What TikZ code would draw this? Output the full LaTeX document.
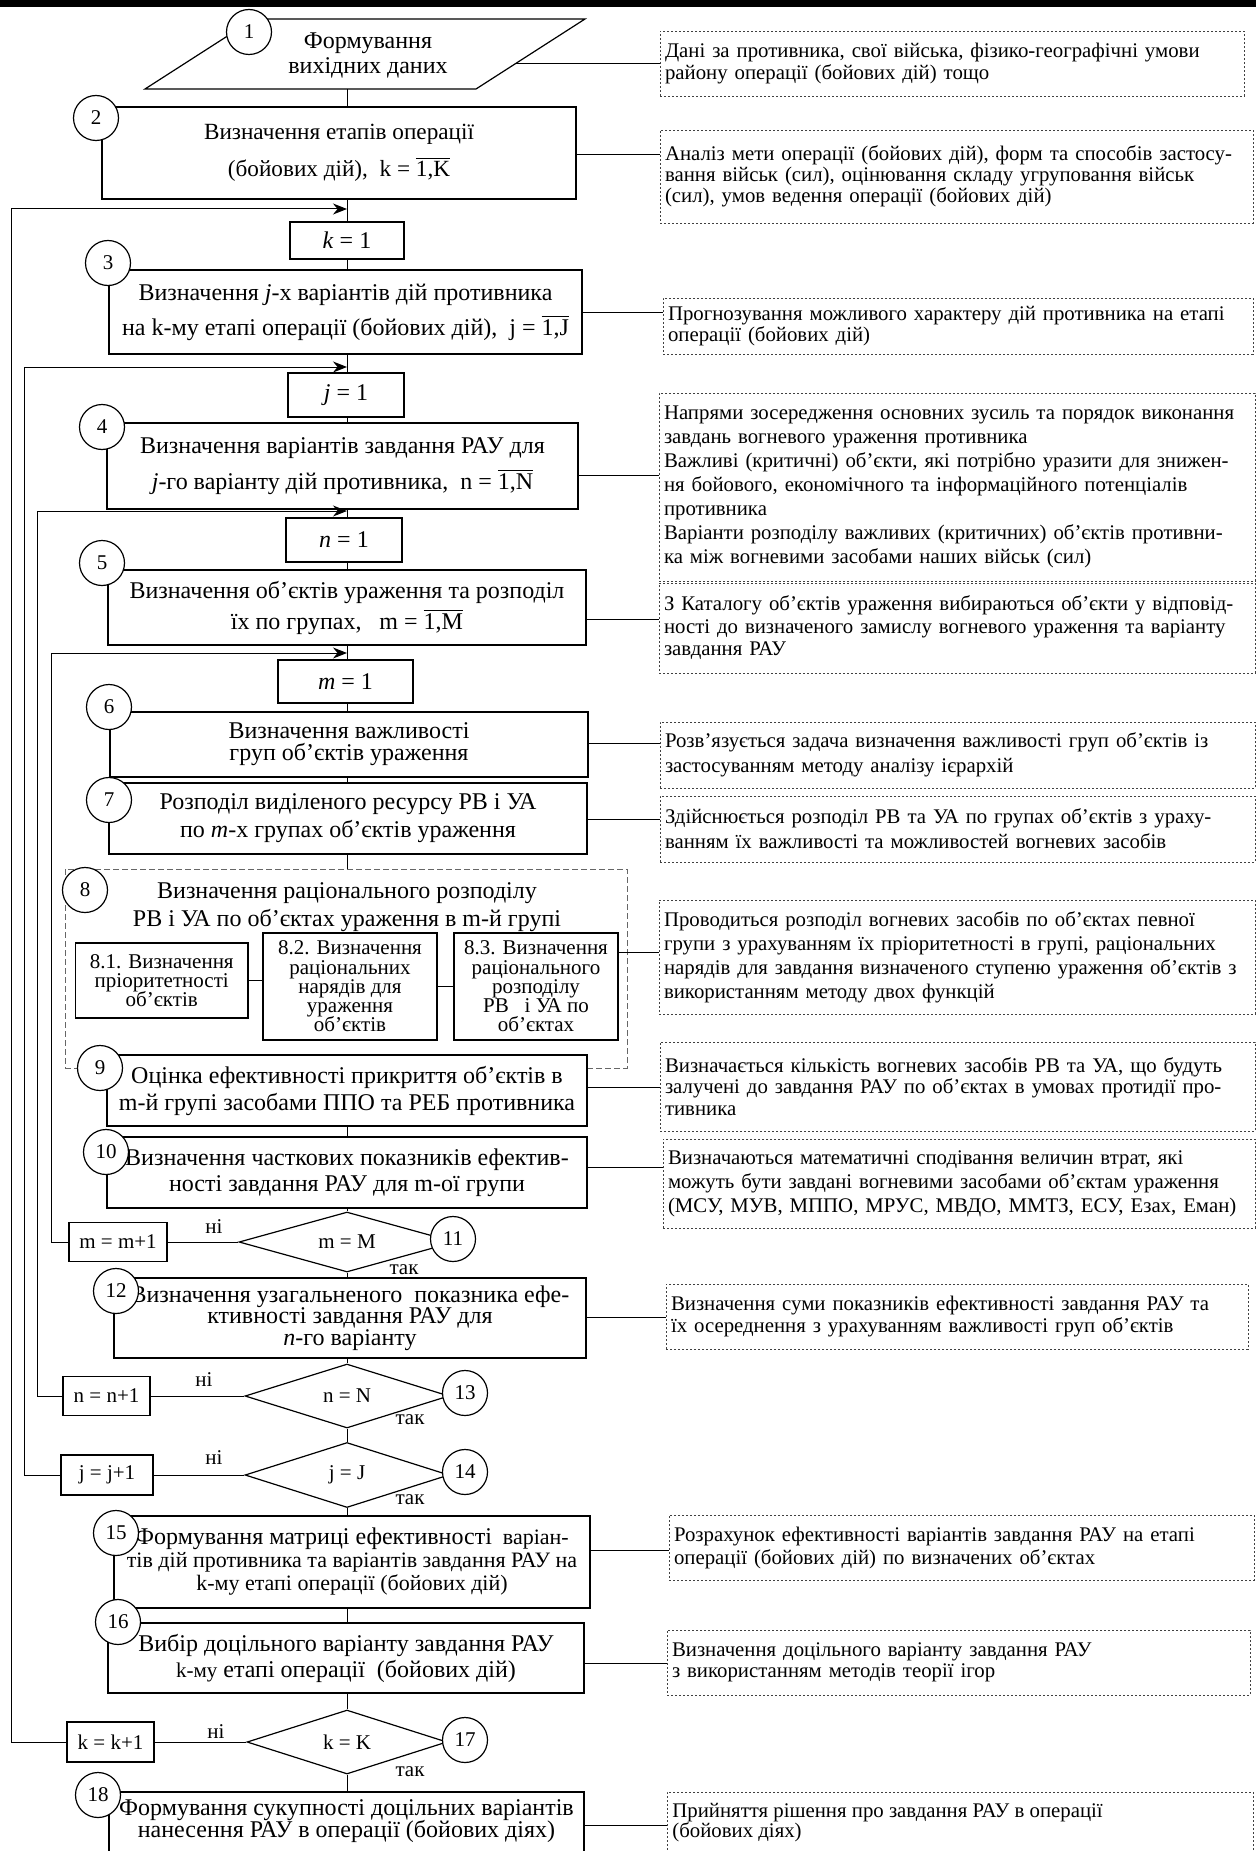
\documentclass[tikz,border=0pt]{standalone}
\usepackage{fontspec}
\setmainfont{Liberation Serif}
\usetikzlibrary{shapes.geometric,arrows.meta}
\newcommand\fz[2]{\fontsize{#1}{#2}\selectfont\lineskiplimit=-20pt\relax}
\newcommand\ovl[1]{\(\overline{\mbox{#1}}\)}
\newcommand\rl[1]{\mbox{#1}}
\tikzset{
 box/.style={draw, line width=0.6pt, fill=white, inner sep=0pt, align=center},
 cnt/.style={draw, line width=0.6pt, fill=white, inner sep=0pt, align=center, font=\fz{10.5}{12}},
 rbox/.style={draw=black!75, line width=0.4pt, dash pattern=on 1.2pt off 0.8pt, inner xsep=2.5pt, inner ysep=0pt, align=left},
 circ/.style={draw, circle, fill=white, line width=0.6pt, minimum size=22.5pt, inner sep=0pt, font=\fz{10.5}{12}},
 dia/.style={draw, diamond, aspect=3.5, line width=0.6pt, fill=white, inner sep=0pt, font=\fz{10.5}{12}},
 conn/.style={line width=0.5pt},
 arr/.style={line width=0.5pt, -{Stealth[length=7pt,width=5.5pt]}},
 lbl/.style={font=\fz{10.5}{12}, inner sep=0pt},
}
\begin{document}
\begin{tikzpicture}[x=0.5pt,y=-0.5pt]
\useasboundingbox (0,0) rectangle (1256,1851);
\clip (0,0) rectangle (1256,1851);
\fill (0,0) rectangle (1256,7);

% ---------- node 1 (parallelogram) ----------
\draw[line width=0.6pt] (254,19) -- (585,19) -- (476,89) -- (145,89) -- cycle;
\node[font=\fz{12}{12.5}, align=center, inner sep=0pt] (p1) at (368,55) {Формування\\вихідних даних};
\coordinate (p1s) at (347,89);
\coordinate (p1e) at (516,64);
\coordinate (ax) at (347,0);

% ---------- main boxes ----------
\node[box, minimum width=237pt, minimum height=46pt, font=\fz{11.6}{18.5}] (b2) at (339,153)
 {Визначення етапів операції\\(бойових дій),~~k = \ovl{1,K}};
\node[box, minimum width=57pt, minimum height=18.5pt, font=\fz{12}{14}] (k1) at (347,240.5) {\textit{k} = 1};
\node[box, minimum width=236.5pt, minimum height=42pt, font=\fz{12}{17.5}] (b3) at (345.5,312)
 {Визначення \textit{j}-х варіантів дій противника\\на k-му етапі операції (бойових дій),~~j = \ovl{1,J}};
\node[box, minimum width=58pt, minimum height=22pt, font=\fz{12}{14}] (j1) at (346,395) {\textit{j} = 1};
\node[box, minimum width=235.5pt, minimum height=43pt, font=\fz{12}{18}] (b4) at (342.5,466)
 {Визначення варіантів завдання РАУ для\\\textit{j}-го варіанту дій противника,~~n = \ovl{1,N}};
\node[box, minimum width=58pt, minimum height=22pt, font=\fz{12}{14}] (n1) at (344,540) {\textit{n} = 1};
\node[box, minimum width=239pt, minimum height=37.5pt, font=\fz{12}{15.5}] (b5) at (347,607.5)
 {Визначення об’єктів ураження та розподіл\\їх по групах,~~~m = \ovl{1,M}};
\node[box, minimum width=67.5pt, minimum height=21.5pt, font=\fz{12}{14}] (m1) at (345.5,681.5) {\textit{m} = 1};
\node[box, minimum width=239pt, minimum height=32.5pt, font=\fz{12}{11}] (b6) at (349,744.5)
 {Визначення важливості\\груп об’єктів ураження};
\node[box, minimum width=239pt, minimum height=35.5pt, font=\fz{12}{14}] (b7) at (348,818.5)
 {Розподіл виділеного ресурсу РВ і УА\\по \textit{m}-х групах об’єктів ураження};

% ---------- block 8 ----------
\node[draw=black!60, line width=0.5pt, dash pattern=on 3pt off 1.5pt, minimum width=281pt, minimum height=99.5pt, inner sep=0pt] (b8) at (346,968.5) {};
\node[font=\fz{12}{14}, align=center, inner sep=0pt] (b8t) at (347,907)
 {Визначення раціонального розподілу\\РВ і УА по об’єктах ураження в m-й групі};
\node[box, minimum width=86.25pt, minimum height=37.5pt, font=\fz{10.5}{9.6}] (s1) at (161.75,980.5)
 {8.1. Визначення\\пріоритетності\\об’єктів};
\node[box, minimum width=87pt, minimum height=53.5pt, font=\fz{10.5}{9.6}] (s2) at (350,986.5)
 {8.2. Визначення\\раціональних\\нарядів для\\ураження\\об’єктів};
\node[box, minimum width=82pt, minimum height=53.5pt, font=\fz{10.5}{9.6}] (s3) at (536,986.5)
 {8.3. Визначення\\раціонального\\розподілу\\РВ~~~і УА по\\об’єктах};

\node[box, minimum width=240pt, minimum height=35.5pt, font=\fz{12}{13.5}] (b9) at (347,1090.5)
 {Оцінка ефективності прикриття об’єктів в\\m-й групі засобами ППО та РЕБ противника};
\node[box, minimum width=240pt, minimum height=35.5pt, font=\fz{12}{13}] (b10) at (347,1172.5)
 {Визначення часткових показників ефектив-\\ності завдання РАУ для m-ої групи};

\node[dia, minimum width=108pt, minimum height=30pt] (dm) at (347,1242) {m = M};
\node[cnt, minimum width=49pt, minimum height=19.5pt] (mm1) at (118,1242) {m = m+1};

\node[box, minimum width=236pt, minimum height=40pt, font=\fz{12}{10.75}] (b12) at (350,1318)
 {Визначення узагальненого~ показника ефе-\\ктивності завдання РАУ для\\\textit{n}-го варіанту};

\node[dia, minimum width=102pt, minimum height=32pt] (dn) at (347,1396) {n = N};
\node[cnt, minimum width=43.5pt, minimum height=19.5pt] (nn1) at (106.5,1396) {n = n+1};

\node[dia, minimum width=102pt, minimum height=32.5pt] (dj) at (347,1475) {j = J};
\node[cnt, minimum width=46pt, minimum height=20pt] (jj1) at (107,1475) {j = j+1};

\node[box, minimum width=238pt, minimum height=46pt, font=\fz{11}{11.5}] (b15) at (352,1562)
 {{\fontsize{12}{11.5}\selectfont Формування матриці ефективності}~ варіан-\\тів дій противника та варіантів завдання РАУ на\\k-му етапі операції (бойових дій)};
\node[box, minimum width=238pt, minimum height=35pt, font=\fz{12}{13}] (b16) at (346,1658)
 {Вибір доцільного варіанту завдання РАУ\\{\fontsize{10.5}{13}\selectfont k-му} етапі операції~ (бойових дій)};

\node[dia, minimum width=100pt, minimum height=32pt] (dk) at (347,1742) {k = K};
\node[cnt, minimum width=43.5pt, minimum height=20pt] (kk1) at (110.5,1742) {k = k+1};

\node[box, minimum width=237.5pt, minimum height=50pt] (b18) at (346.5,1842) {};
\node[font=\fz{12}{11}, align=center, inner sep=0pt] (b18t) at (346.5,1821)
 {Формування сукупності доцільних варіантів\\нанесення РАУ в операції (бойових діях)};

% ---------- right notes ----------
\node[rbox, text width=287pt, minimum height=32.5pt, font=\fz{10.4}{11}] (r1) at (952,63.5)
 {\rl{Дані за противника, свої війська, фізико-географічні умови}\\\rl{району операції (бойових дій) тощо}};
\node[rbox, text width=291.5pt, minimum height=46.5pt, font=\fz{10.4}{10.5}] (r2) at (956.5,176.5)
 {\rl{Аналіз мети операції (бойових дій), форм та способів застосу-}\\\rl{вання військ (сил), оцінювання складу угруповання військ}\\\rl{(сил), умов ведення операції (бойових дій)}};
\node[rbox, text width=290pt, minimum height=28pt, font=\fz{10.4}{10.5}] (r3) at (958,326)
 {\rl{Прогнозування можливого характеру дій противника на етапі}\\\rl{операції (бойових дій)}};
\node[rbox, text width=293pt, minimum height=94pt, font=\fz{10.4}{12}] (r4) at (957,487)
 {\rl{Напрями зосередження основних зусиль та порядок виконання}\\\rl{завдань вогневого ураження противника}\\\rl{Важливі (критичні) об’єкти, які потрібно уразити для знижен-}\\\rl{ня бойового, економічного та інформаційного потенціалів}\\\rl{противника}\\\rl{Варіанти розподілу важливих (критичних) об’єктів противни-}\\\rl{ка між вогневими засобами наших військ (сил)}};
\node[rbox, text width=293pt, minimum height=45pt, font=\fz{10.4}{11.25}] (r5) at (957,628)
 {\rl{З Каталогу об’єктів ураження вибираються об’єкти у відповід-}\\\rl{ності до визначеного замислу вогневого ураження та варіанту}\\\rl{завдання РАУ}};
\node[rbox, text width=292.5pt, minimum height=33pt, font=\fz{10.4}{12.5}] (r6) at (957.5,755)
 {\rl{Розв’язується задача визначення важливості груп об’єктів із}\\\rl{застосуванням методу аналізу ієрархій}};
\node[rbox, text width=292.5pt, minimum height=33pt, font=\fz{10.4}{12.5}] (r7) at (957.5,829)
 {\rl{Здійснюється розподіл РВ та УА по групах об’єктів з ураху-}\\\rl{ванням їх важливості та можливостей вогневих засобів}};
\node[rbox, text width=293pt, minimum height=57pt, font=\fz{10.4}{12}] (r8) at (957,957)
 {\rl{Проводиться розподіл вогневих засобів по об’єктах певної}\\\rl{групи з урахуванням їх пріоритетності в групі, раціональних}\\\rl{нарядів для завдання визначеного ступеню ураження об’єктів з}\\\rl{використанням методу двох функцій}};
\node[rbox, text width=292.5pt, minimum height=44.5pt, font=\fz{10.4}{10.75}] (r9) at (957.5,1086.5)
 {\rl{Визначається кількість вогневих засобів РВ та УА, що будуть}\\\rl{залучені до завдання РАУ по об’єктах в умовах протидії про-}\\\rl{тивника}};
\node[rbox, text width=291pt, minimum height=44.5pt, font=\fz{10.4}{12}] (r10) at (959,1183.5)
 {\rl{Визначаються математичні сподівання величин втрат, які}\\\rl{можуть бути завдані вогневими засобами об’єктам ураження}\\\rl{(МСУ, МУВ, МППО, МРУС, МВДО, ММТЗ, ЕСУ, Езах, Еман)}};
\node[rbox, text width=286pt, minimum height=32.5pt, font=\fz{10.4}{11}] (r11) at (957,1316.5)
 {\rl{Визначення суми показників ефективності завдання РАУ та}\\\rl{їх осереднення з урахуванням важливості груп об’єктів}};
\node[rbox, text width=287.5pt, minimum height=32.5pt, font=\fz{10.4}{11.5}] (r12) at (961.5,1547.5)
 {\rl{Розрахунок ефективності варіантів завдання РАУ на етапі}\\\rl{операції (бойових дій) по визначених об’єктах}};
\node[rbox, text width=286.5pt, minimum height=32.5pt, font=\fz{10.4}{10.5}] (r13) at (958.5,1662.5)
 {\rl{Визначення доцільного варіанту завдання РАУ}\\\rl{з використанням методів теорії ігор}};
\node[rbox, text width=288pt, minimum height=50pt] (r14) at (960,1842) {};
\node[font=\fz{10.4}{10}, align=left, inner sep=0pt, anchor=west] (r14t) at (672,1823)
 {Прийняття рішення про завдання РАУ в операції\\(бойових діях)};

% ---------- main vertical connectors ----------
\draw[conn] (p1s) -- (b2.north -| p1s);
\draw[conn] (b2.south -| ax) -- (k1.north -| ax);
\draw[conn] (k1.south -| ax) -- (b3.north -| ax);
\draw[conn] (b3.south -| ax) -- (j1.north -| ax);
\draw[conn] (j1.south -| ax) -- (b4.north -| ax);
\draw[conn] (b4.south -| ax) -- (n1.north -| ax);
\draw[conn] (n1.south -| ax) -- (b5.north -| ax);
\draw[conn] (b5.south -| ax) -- (m1.north -| ax);
\draw[conn] (m1.south -| ax) -- (b6.north -| ax);
\draw[conn] (b6.south -| ax) -- (b7.north -| ax);
\draw[conn] (b7.south -| ax) -- (b8.north -| ax);
\draw[conn] (b9.south -| ax) -- (b10.north -| ax);
\draw[conn] (b10.south -| ax) -- (dm.north);
\draw[conn] (dm.south) -- (b12.north -| ax);
\draw[conn] (b12.south -| ax) -- (dn.north);
\draw[conn] (dn.south) -- (dj.north);
\draw[conn] (dj.south) -- (b15.north -| ax);
\draw[conn] (b15.south -| ax) -- (b16.north -| ax);
\draw[conn] (b16.south -| ax) -- (dk.north);
\draw[conn] (dk.south) -- (b18.north -| ax);

% block 8 internals
\draw[conn] (s1.east) -- (s1.east -| s2.west);
\draw[conn] (s2.east) -- (s3.west);

% ---------- "no" branches and loops ----------
\draw[conn] (dm.west) -- (mm1.east);
\draw[conn] (dn.west) -- (nn1.east);
\draw[conn] (dj.west) -- (jj1.east);
\draw[conn] (dk.west) -- (kk1.east);

\coordinate (kx) at (11.5,209);  \coordinate (ka) at (347,209);
\coordinate (jx) at (24,367);    \coordinate (ja) at (347,367);
\coordinate (nx) at (37.5,511);  \coordinate (na) at (347,511);
\coordinate (mx) at (51,653);    \coordinate (ma) at (347,653);
\draw[arr] (kk1.west) -| (kx) -- (ka);
\draw[arr] (jj1.west) -| (jx) -- (ja);
\draw[arr] (nn1.west) -| (nx) -- (na);
\draw[arr] (mm1.west) -| (mx) -- (ma);

\node[lbl] (lm1) at (214,1227) {ні};
\node[lbl] (ln1) at (204,1380) {ні};
\node[lbl] (lj1) at (214,1458) {ні};
\node[lbl] (lk1) at (216,1732) {ні};
\node[lbl] (lm2) at (404,1270) {так};
\node[lbl] (ln2) at (410,1420) {так};
\node[lbl] (lj2) at (410,1500) {так};
\node[lbl] (lk2) at (410,1772) {так};

% ---------- connectors to notes ----------
\coordinate (y2) at (0,155);   \coordinate (y3) at (0,312);
\coordinate (y4) at (0,475);   \coordinate (y5) at (0,619);
\coordinate (y6) at (0,743);   \coordinate (y7) at (0,819);
\coordinate (y8) at (0,952);   \coordinate (y9) at (0,1087);
\coordinate (y10) at (0,1167); \coordinate (y12) at (0,1317);
\coordinate (y15) at (0,1550); \coordinate (y16) at (0,1663);
\coordinate (y18) at (0,1825);
\draw[conn] (p1e) -- (p1e -| r1.west);
\draw[conn] (b2.east |- y2) -- (r2.west |- y2);
\draw[conn] (b3.east |- y3) -- (r3.west |- y3);
\draw[conn] (b4.east |- y4) -- (r4.west |- y4);
\draw[conn] (b5.east |- y5) -- (r5.west |- y5);
\draw[conn] (b6.east |- y6) -- (r6.west |- y6);
\draw[conn] (b7.east |- y7) -- (r7.west |- y7);
\draw[conn] (s3.east |- y8) -- (r8.west |- y8);
\draw[conn] (b9.east |- y9) -- (r9.west |- y9);
\draw[conn] (b10.east |- y10) -- (r10.west |- y10);
\draw[conn] (b12.east |- y12) -- (r11.west |- y12);
\draw[conn] (b15.east |- y15) -- (r12.west |- y15);
\draw[conn] (b16.east |- y16) -- (r13.west |- y16);
\draw[conn] (b18.east |- y18) -- (r14.west |- y18);

% ---------- numbered circles ----------
\node[circ] (c1) at (249,32) {1};
\node[circ] (c2) at (96,118) {2};
\node[circ] (c3) at (108,263) {3};
\node[circ] (c4) at (102,427) {4};
\node[circ] (c5) at (102,563) {5};
\node[circ] (c6) at (109,707) {6};
\node[circ] (c7) at (109,800) {7};
\node[circ] (c8) at (85,890) {8};
\node[circ] (c9) at (100,1068) {9};
\node[circ] (c10) at (106,1152) {10};
\node[circ] (c11) at (453,1239) {11};
\node[circ] (c12) at (116,1291) {12};
\node[circ] (c13) at (465,1393) {13};
\node[circ] (c14) at (465,1472) {14};
\node[circ] (c15) at (116,1533) {15};
\node[circ] (c16) at (118,1622) {16};
\node[circ] (c17) at (465,1740) {17};
\node[circ] (c18) at (98,1795) {18};
\end{tikzpicture}
\end{document}
